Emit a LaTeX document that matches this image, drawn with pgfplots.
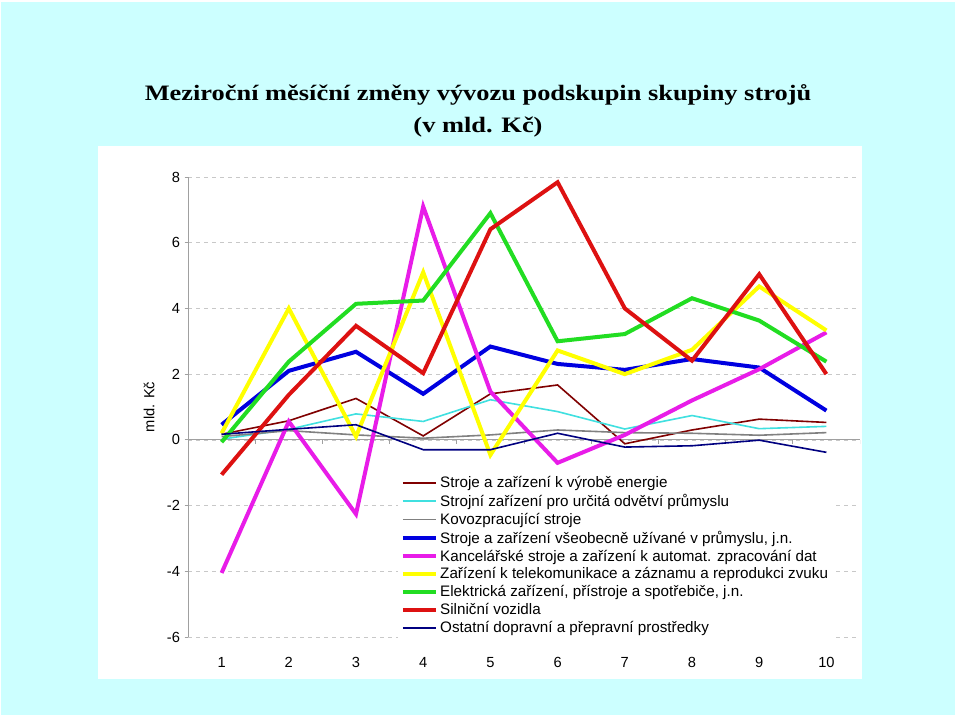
\documentclass[border=0pt]{standalone}
\usepackage{pgfplots}
\pgfplotsset{compat=1.18}
\usepackage{fontspec}
\setmainfont{Liberation Sans}
\newfontfamily\titlefont[FakeStretch=1.2]{Liberation Serif}
\definecolor{bgcyan}{HTML}{CCFFFF}
\definecolor{cEnergie}{HTML}{800000}
\definecolor{cStrojni}{HTML}{40E0E0}
\definecolor{cKovo}{HTML}{808080}
\definecolor{cVseob}{HTML}{0000E0}
\definecolor{cKanc}{HTML}{E81CE8}
\definecolor{cTele}{HTML}{FFFF00}
\definecolor{cElektr}{HTML}{22DD22}
\definecolor{cSilnic}{HTML}{DD1111}
\definecolor{cOstatni}{HTML}{000080}
\definecolor{gridgray}{HTML}{C8C8C8}
\definecolor{axgray}{HTML}{A0A0A0}
\protected\def\LegA{Stroje a zařízení k výrobě energie}
\protected\def\LegB{Strojní zařízení pro určitá odvětví průmyslu}
\protected\def\LegC{Kovozpracující stroje}
\protected\def\LegD{Stroje a zařízení všeobecně užívané v průmyslu, j.n.}
\protected\def\LegE{Kancelářské stroje a zařízení k automat. zpracování dat}
\protected\def\LegF{Zařízení k telekomunikace a záznamu a reprodukci zvuku}
\protected\def\LegG{Elektrická zařízení, přístroje a spotřebiče, j.n.}
\protected\def\LegH{Silniční vozidla}
\protected\def\LegI{Ostatní dopravní a přepravní prostředky}
\protected\def\YLab{mld. Kč}
\begin{document}
\begin{tikzpicture}
\useasboundingbox (0,0) rectangle (720pt,540pt);
\fill[white] (0,0) rectangle (720pt,540pt);
\fill[bgcyan] (0.75pt,3.75pt) rectangle (716.25pt,538.5pt);
\fill[white] (73.5pt,30.75pt) rectangle (646.5pt,430.5pt);
\node[font=\titlefont\bfseries\fontsize{16.5}{19}\selectfont] at (358.5pt,468.75pt) {Meziroční měsíční změny vývozu podskupin skupiny strojů};
\node[font=\titlefont\bfseries\fontsize{16.5}{19}\selectfont] at (358.5pt,444.75pt) {(v mld. Kč)};
\begin{axis}[
  at={(141pt,62.25pt)}, anchor=south west,
  scale only axis, width=504pt, height=345pt,
  xmin=0.5, xmax=10.5, ymin=-6, ymax=8,
  axis lines*=left, separate axis lines,
  axis line style={-},
  x axis line style={draw=none},
  y axis line style={draw=axgray, line width=0.6pt},
  xtick={1,...,10},
  ytick={-6,-4,-2,0,2,4,6,8},
  xtick style={draw=none},
  ytick style={draw=axgray, line width=0.6pt},
  tick align=outside,
  major tick length=2.5pt,
  ymajorgrids,
  grid style={dashed, gridgray, line width=0.5pt},
  /pgf/number format/assume math mode=true,
  tick label style={font=\fontsize{11}{13}\selectfont},
  xticklabel style={yshift=-9pt},
  ylabel={\YLab},
  every axis y label/.style={at={(axis description cs:-0.058,0.5)}, rotate=90, anchor=center, font=\fontsize{11}{13}\selectfont},
  legend style={at={(0.3125,0.3587)}, anchor=north west, draw=none, fill=white,
    font=\fontsize{11.4}{13}\selectfont, inner xsep=2pt, inner ysep=1pt,
    row sep=-0.5pt},
  legend cell align=left,
  legend image code/.code={\draw[#1] (0cm,0cm) -- (0.86cm,0cm);},
]
\draw[axgray, line width=0.6pt] (axis cs:0.5,0) -- (axis cs:10.5,0);
\pgfplotsinvokeforeach{1.5,2.5,...,10.5}{\draw[axgray, line width=0.6pt] (axis cs:#1,0) -- ++(0pt,-3pt);}
\addplot[cEnergie, line width=1.2pt] coordinates {(1,0.17) (2,0.58) (3,1.26) (4,0.12) (5,1.40) (6,1.67) (7,-0.12) (8,0.30) (9,0.63) (10,0.53)};
\addlegendentry{\LegA}
\addplot[cStrojni, line width=1.2pt] coordinates {(1,0.02) (2,0.32) (3,0.79) (4,0.56) (5,1.22) (6,0.86) (7,0.33) (8,0.74) (9,0.34) (10,0.41)};
\addlegendentry{\LegB}
\addplot[cKovo, line width=1.2pt] coordinates {(1,0.10) (2,0.28) (3,0.15) (4,0.05) (5,0.15) (6,0.30) (7,0.22) (8,0.20) (9,0.14) (10,0.22)};
\addlegendentry{\LegC}
\addplot[cVseob, line width=3pt] coordinates {(1,0.46) (2,2.10) (3,2.68) (4,1.40) (5,2.84) (6,2.31) (7,2.13) (8,2.46) (9,2.20) (10,0.89)};
\addlegendentry{\LegD}
\addplot[cKanc, line width=3pt] coordinates {(1,-4.05) (2,0.56) (3,-2.26) (4,7.10) (5,1.47) (6,-0.70) (7,0.15) (8,1.20) (9,2.15) (10,3.27)};
\addlegendentry{\LegE}
\addplot[cTele, line width=3pt] coordinates {(1,0.20) (2,4.00) (3,0.10) (4,5.10) (5,-0.46) (6,2.72) (7,2.00) (8,2.74) (9,4.67) (10,3.33)};
\addlegendentry{\LegF}
\addplot[cElektr, line width=3pt] coordinates {(1,-0.07) (2,2.38) (3,4.14) (4,4.24) (5,6.90) (6,3.00) (7,3.22) (8,4.31) (9,3.63) (10,2.38)};
\addlegendentry{\LegG}
\addplot[cSilnic, line width=3pt] coordinates {(1,-1.06) (2,1.37) (3,3.47) (4,2.03) (5,6.41) (6,7.84) (7,4.00) (8,2.41) (9,5.04) (10,2.00)};
\addlegendentry{\LegH}
\addplot[cOstatni, line width=1.2pt] coordinates {(1,0.17) (2,0.32) (3,0.46) (4,-0.30) (5,-0.30) (6,0.20) (7,-0.22) (8,-0.18) (9,-0.01) (10,-0.38)};
\addlegendentry{\LegI}
\end{axis}
\end{tikzpicture}
\end{document}
